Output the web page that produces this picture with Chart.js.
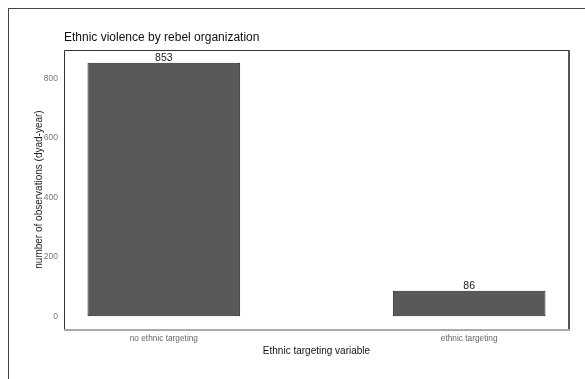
<!DOCTYPE html>
<html>
<head>
<meta charset="utf-8">
<script src="https://cdn.jsdelivr.net/npm/chart.js@4"></script>
<style>
  html, body { margin: 0; padding: 0; background: #fff; }
  #wrap { position: relative; width: 585px; height: 379px; }
  #frame { position: absolute; left: 8px; top: 8px; width: 600px; height: 400px;
           border-top: 1px solid #444; border-left: 1px solid #444; }
  canvas { position: absolute; left: 0; top: 0; }
</style>
</head>
<body>
<div id="wrap">
  <div id="frame"></div>
  <canvas id="myChart" width="585" height="379"></canvas>
</div>
<script>
const categories = ['no ethnic targeting', 'ethnic targeting'];
const counts = [853, 86];
const yTicks = [0, 200, 400, 600, 800];

const FONT = '"Liberation Sans", Arial, sans-serif';

// panel frame + bar value labels + title
const extras = {
  id: 'extras',
  afterDatasetsDraw(chart) {
    const ctx = chart.ctx;
    const a = chart.chartArea;
    ctx.save();
    ctx.strokeStyle = '#333';
    ctx.lineWidth = 1;
    ctx.beginPath();
    ctx.moveTo(a.left + 0.5, a.bottom);
    ctx.lineTo(a.left + 0.5, a.top + 0.5);
    ctx.lineTo(a.right, a.top + 0.5);
    ctx.stroke();
    ctx.strokeStyle = '#555';
    ctx.lineWidth = 2;
    ctx.beginPath();
    ctx.moveTo(a.right, a.top);
    ctx.lineTo(a.right, a.bottom);
    ctx.stroke();
    ctx.strokeStyle = '#aaa';
    ctx.beginPath();
    ctx.moveTo(a.left, a.bottom + 1);
    ctx.lineTo(a.right + 1, a.bottom + 1);
    ctx.stroke();

    ctx.fillStyle = '#222';
    ctx.font = '10.5px ' + FONT;
    ctx.textAlign = 'center';
    ctx.textBaseline = 'bottom';
    chart.getDatasetMeta(0).data.forEach((bar, i) => {
      ctx.fillText(String(counts[i]), bar.x, bar.y + 1);
    });

    ctx.font = '12px ' + FONT;
    ctx.textAlign = 'left';
    ctx.textBaseline = 'middle';
    ctx.fillStyle = '#111';
    ctx.fillText('Ethnic violence by rebel organization', a.left, 38);
    ctx.restore();
  }
};

const data = {
  datasets: [{
    label: 'observations',
    data: counts.map((v, i) => ({x: i + 1, y: v})),
    backgroundColor: '#595959',
    borderColor: '#222',
    borderWidth: 1,
    borderSkipped: false,
    barPercentage: 0.5,
    categoryPercentage: 1
  }]
};

const config = {
  type: 'bar',
  data: data,
  options: {
    responsive: false,
    animation: false,
    layout: { padding: { top: 50, right: 16, left: 0, bottom: 0 } },
    plugins: { legend: { display: false }, tooltip: { enabled: false } },
    scales: {
      x: {
        type: 'linear',
        offset: false,
        min: 0.673,
        max: 2.327,
        grid: { display: false, drawTicks: false },
        border: { display: false },
        afterBuildTicks: (s) => { s.ticks = categories.map((c, i) => ({value: i + 1})); },
        afterFit: (s) => { s.height = 50; },
        ticks: {
          padding: 5,
          color: '#666',
          font: { family: FONT, size: 8.3 },
          maxRotation: 0,
          callback: (v) => categories[v - 1]
        },
        title: {
          display: true,
          text: 'Ethnic targeting variable',
          color: '#111',
          font: { family: FONT, size: 10 },
          padding: { top: 0, bottom: 22 }
        }
      },
      y: {
        min: -42.65,
        max: 895.65,
        grid: { display: false, drawTicks: false },
        border: { display: false },
        afterBuildTicks: (s) => { s.ticks = yTicks.map(v => ({value: v})); },
        afterFit: (s) => { s.width = 64; },
        ticks: {
          padding: 6,
          color: '#777',
          font: { family: FONT, size: 8.5 }
        },
        title: {
          display: true,
          text: 'number of observations (dyad-year)',
          color: '#222',
          font: { family: FONT, size: 10 },
          padding: { top: 33, bottom: 0 }
        }
      }
    }
  },
  plugins: [extras]
};

const myChart = new Chart(document.getElementById('myChart'), config);
</script>
</body>
</html>
